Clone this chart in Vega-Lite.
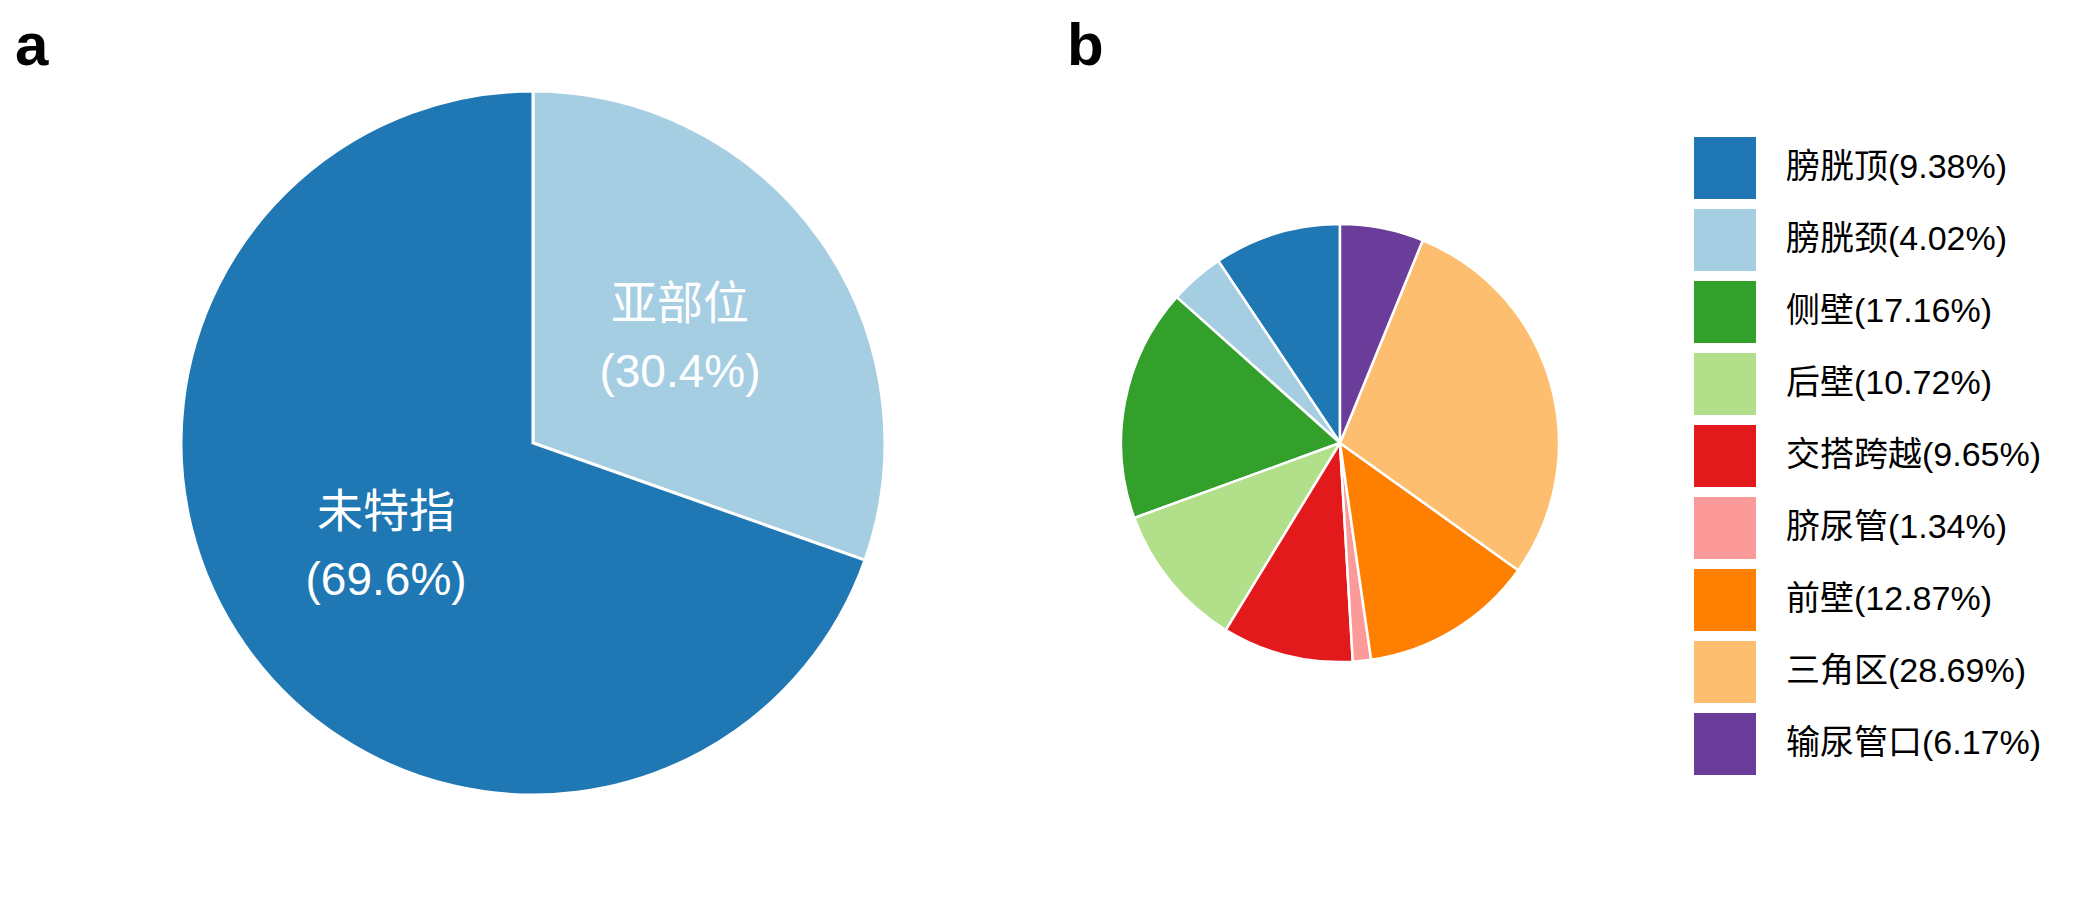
{
  "$schema": "https://vega.github.io/schema/vega-lite/v6.json",
  "background": "white",
  "padding": {"left": 15, "top": 17, "right": 0, "bottom": 0},
  "spacing": 16,
  "config": {
    "view": {"stroke": null},
    "font": "Liberation Sans, Noto Sans CJK SC",
    "title": {"fontSize": 60, "fontWeight": "bold", "anchor": "start", "font": "Liberation Sans", "color": "black", "offset": -7}
  },
  "resolve": {"scale": {"color": "independent", "theta": "independent"}},
  "hconcat": [
    {
      "width": 1036,
      "height": 744,
      "title": {"text": "a"},
      "data": {"values": [
        {"region": "亚部位", "pct": 30.4, "ord": 1},
        {"region": "未特指", "pct": 69.6, "ord": 2}
      ]},
      "transform": [{"calculate": "'(' + format(datum.pct, '.1f') + '%)'", "as": "pctLabel"}],
      "encoding": {
        "theta": {"field": "pct", "type": "quantitative", "stack": true},
        "order": {"field": "ord", "type": "quantitative"}
      },
      "layer": [
        {
          "mark": {"type": "arc", "outerRadius": 352, "stroke": "white", "strokeWidth": 3},
          "encoding": {
            "color": {"field": "region", "type": "nominal", "scale": {"domain": ["未特指", "亚部位"], "range": ["#1f78b4", "#a6cee3"]}, "legend": null}
          }
        },
        {
          "mark": {"type": "text", "radius": 180, "dy": -34, "fontSize": 46, "color": "white", "font": "Liberation Sans, Noto Sans CJK SC"},
          "encoding": {"text": {"field": "region", "type": "nominal"}}
        },
        {
          "mark": {"type": "text", "radius": 180, "dy": 34, "fontSize": 46, "color": "white", "font": "Liberation Sans, Noto Sans CJK SC"},
          "encoding": {"text": {"field": "pctLabel", "type": "nominal"}}
        }
      ]
    },
    {
      "width": 546,
      "height": 744,
      "title": {"text": "b"},
      "data": {"values": [
        {"site": "膀胱顶", "pct": 9.38, "idx": 1},
        {"site": "膀胱颈", "pct": 4.02, "idx": 2},
        {"site": "侧壁", "pct": 17.16, "idx": 3},
        {"site": "后壁", "pct": 10.72, "idx": 4},
        {"site": "交搭跨越", "pct": 9.65, "idx": 5},
        {"site": "脐尿管", "pct": 1.34, "idx": 6},
        {"site": "前壁", "pct": 12.87, "idx": 7},
        {"site": "三角区", "pct": 28.69, "idx": 8},
        {"site": "输尿管口", "pct": 6.17, "idx": 9}
      ]},
      "transform": [{"calculate": "datum.site + '(' + format(datum.pct, '.2f') + '%)'", "as": "label"}],
      "mark": {"type": "arc", "outerRadius": 219, "stroke": "white", "strokeWidth": 2.5},
      "encoding": {
        "theta": {"field": "pct", "type": "quantitative", "stack": true},
        "order": {"field": "idx", "type": "quantitative", "sort": "descending"},
        "color": {
          "field": "label",
          "type": "nominal",
          "sort": {"field": "idx", "order": "ascending"},
          "scale": {"range": ["#1f78b4", "#a6cee3", "#33a02c", "#b2df8a", "#e31a1c", "#fb9a99", "#ff7f00", "#fdbf6f", "#6a3d9a"]},
          "legend": {
            "orient": "none",
            "legendX": 627,
            "legendY": 66,
            "title": null,
            "symbolType": "square",
            "symbolSize": 3844,
            "symbolStrokeWidth": 0,
            "symbolOpacity": 1,
            "labelFontSize": 34,
            "labelFont": "Liberation Sans, Noto Sans CJK SC",
            "labelColor": "black",
            "labelOffset": 30,
            "labelLimit": 0,
            "rowPadding": 10
          }
        }
      }
    }
  ]
}
